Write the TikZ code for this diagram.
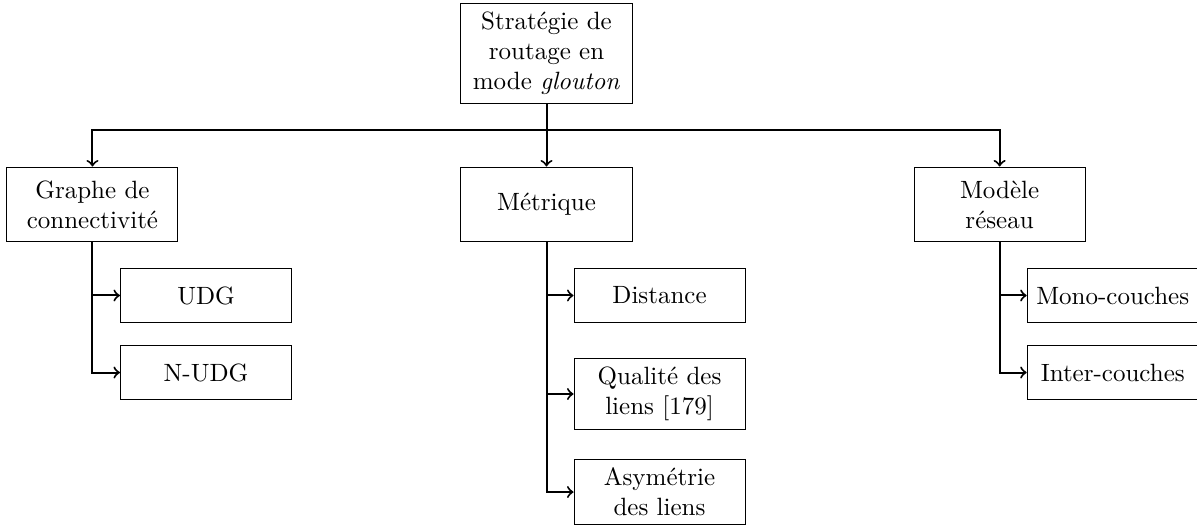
\documentclass[tikz,border=0pt]{standalone}
\begin{document}
\begin{tikzpicture}[
    box/.style={draw, text width=2.17cm, align=center},
    cat/.style={box, minimum height=1.054cm},
    leaf/.style={box, minimum height=0.76cm},
    link/.style={thick}
  ]

      \useasboundingbox (-7.683,0.752) rectangle (9.145,-6.615);

      \node[box] (strategie) at (0,0) {Stratégie de routage en mode \emph{glouton}}; % root

      \node[cat] (graphe) at (-6.383,-2.123) {Graphe de connectivité};
      \node[cat] (metrique) at (0,-2.123) {Métrique};
      \node[cat] (modele) at (6.37,-2.123) {Modèle réseau};

      \node[leaf] (udg) at (-4.787,-3.402) {UDG};
      \node[leaf] (nudg) at (-4.787,-4.485) {N-UDG};

      \node[leaf] (distance) at (1.589,-3.402) {Distance};
      \node[leaf] (qualite) at (1.589,-4.787) {Qualité des liens [179]};
      \node[leaf] (asymetrie) at (1.589,-6.165) {Asymétrie des liens};

      \node[leaf] (mono) at (7.96,-3.402) {Mono-couches};
      \node[leaf] (inter) at (7.96,-4.485) {Inter-couches};

      \coordinate (bus) at (0,-1.075);

      \draw[link] (strategie.south) -- (bus); % root to bus
      \draw[link,->] (bus) -| (graphe.north);
      \draw[link,->] (bus) -- (metrique.north);
      \draw[link,->] (bus) -| (modele.north);

      \foreach \leafnode in {udg,nudg}
      \draw[link,->] (graphe.south) |- (\leafnode.west);

      \foreach \leafnode in {distance,qualite,asymetrie}
      \draw[link,->] (metrique.south) |- (\leafnode.west);

      \foreach \leafnode in {mono,inter}
      \draw[link,->] (modele.south) |- (\leafnode.west);

    \end{tikzpicture}
\end{document}
